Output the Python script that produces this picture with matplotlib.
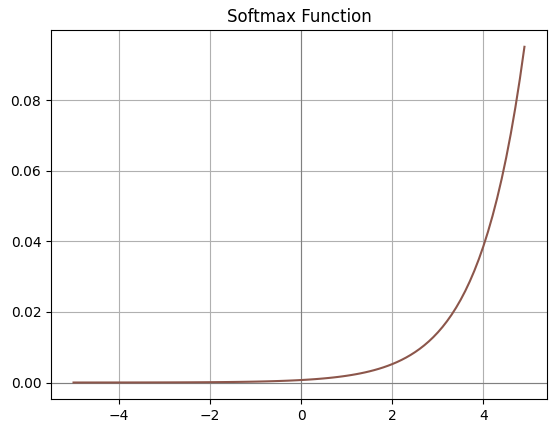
import numpy as np
import matplotlib
matplotlib.use("Agg")
import matplotlib.pyplot as plt

# Sample points of the plotted function (x from -5 to 4.9, step 0.1)
x = np.arange(-5.0, 5.0, 0.1)
title = "Softmax Function"

def softmax(v):
    e = np.exp(v)
    return e / e.sum()

y = softmax(x)

fig = plt.figure(figsize=(5.56, 4.33), dpi=100)
ax = fig.add_axes([0.0917, 0.0778, 0.8921, 0.8529])
ax.axhline(0, color="gray", linewidth=0.8)
ax.axvline(0, color="gray", linewidth=0.8)
ax.plot(x, y, color="#8c564b")
ax.set_title(title)
ax.grid(True)
fig.savefig("out.png", dpi=100)
